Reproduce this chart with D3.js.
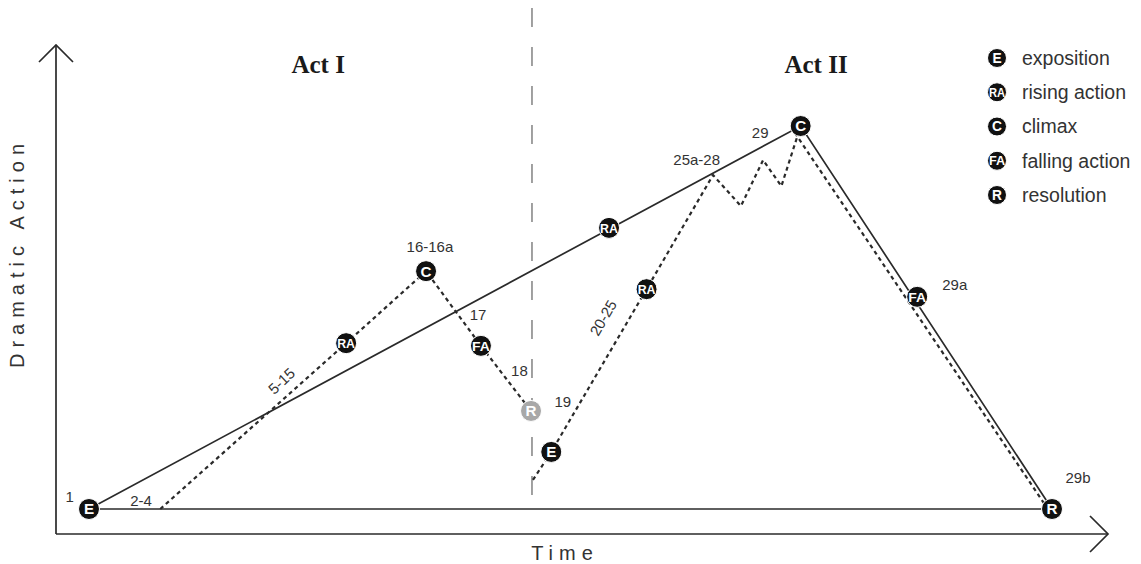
<!DOCTYPE html>
<html>
<head>
<meta charset="utf-8">
<script src="https://cdn.jsdelivr.net/npm/d3@7"></script>
<style>
  body { margin: 0; background: #fff; }
  svg { display: block; }
  text { font-family: "Liberation Sans", Arial, sans-serif; fill: #333; }
</style>
</head>
<body>
<svg id="chart" width="1141" height="564"></svg>
<script>
// story time (0 = exposition, 100 = final resolution) vs dramatic action (0..100)
const mainArc = [[0, 0], [73.9, 100], [100, 0]];
const baseline = [[0, 0], [100, 0]];
const actOnePath = [[7.4, 0], [26.7, 43.3], [35.0, 62.1], [40.7, 42.6], [45.9, 25.6]];
const actTwoPath = [[46.1, 7.6], [48.0, 14.9], [57.9, 57.4], [64.8, 87.2], [67.7, 79.1], [70.0, 91.1], [71.9, 84.3], [73.9, 100]];
const fallPath = [[73.3, 98.2], [99.3, 1]];

const markers = [
  { code: "E", t: 0, v: 0 },
  { code: "RA", t: 26.7, v: 43.3 },
  { code: "C", t: 35.0, v: 62.1 },
  { code: "FA", t: 40.7, v: 42.6 },
  { code: "R", t: 45.9, v: 25.6, faded: true },
  { code: "E", t: 48.0, v: 14.9 },
  { code: "RA", t: 57.9, v: 57.4 },
  { code: "RA", t: 54.0, v: 73.4 },
  { code: "C", t: 73.9, v: 100 },
  { code: "FA", t: 86.0, v: 55.4 },
  { code: "R", t: 100, v: 0 }
];

const sceneLabels = [
  { text: "1", t: -2.0, v: 3.1 },
  { text: "2-4", t: 5.4, v: 2.1 },
  { text: "5-15", t: 20.0, v: 33.4, angle: -43 },
  { text: "16-16a", t: 35.4, v: 68.4 },
  { text: "17", t: 40.4, v: 50.7 },
  { text: "18", t: 44.7, v: 36.0 },
  { text: "19", t: 49.2, v: 27.9 },
  { text: "20-25", t: 53.4, v: 49.9, angle: -60 },
  { text: "25a-28", t: 63.1, v: 91.1 },
  { text: "29", t: 69.7, v: 98.2 },
  { text: "29a", t: 89.9, v: 58.5 },
  { text: "29b", t: 102.7, v: 8.1 }
];

const acts = [{ name: "Act I", t: 23.8 }, { name: "Act II", t: 75.5 }];
const actBreak = 46.0;

const legendCodes = ["E", "RA", "C", "FA", "R"];
const legendNames = ["exposition", "rising action", "climax", "falling action", "resolution"];

const svg = d3.select('#chart');

const x = d3.scaleLinear().domain([0, 100]).range([89, 1052]);
const y = d3.scaleLinear().domain([0, 100]).range([509, 126]);

const axisX0 = 56, axisY0 = 534;
const ink = '#2a2a2a';

// axes with open arrowheads
svg.append('line').attr('x1', axisX0).attr('y1', axisY0).attr('x2', axisX0).attr('y2', 45)
  .attr('stroke', ink).attr('stroke-width', 1.7);
svg.append('path').attr('d', `M${axisX0 - 17},62 L${axisX0},45 L${axisX0 + 17},62`)
  .attr('fill', 'none').attr('stroke', ink).attr('stroke-width', 1.7);
svg.append('line').attr('x1', axisX0).attr('y1', axisY0).attr('x2', 1108).attr('y2', axisY0)
  .attr('stroke', ink).attr('stroke-width', 1.7);
svg.append('path').attr('d', `M1090,516 L1108,${axisY0} L1090,552`)
  .attr('fill', 'none').attr('stroke', ink).attr('stroke-width', 1.7);

svg.append('text').attr('transform', `translate(24, 253) rotate(-90)`)
  .attr('text-anchor', 'middle').attr('font-size', 20).attr('letter-spacing', 6)
  .text('Dramatic Action');
svg.append('text').attr('x', 565).attr('y', 560)
  .attr('text-anchor', 'middle').attr('font-size', 20).attr('letter-spacing', 6)
  .text('Time');

// act divider
svg.append('line').attr('x1', x(actBreak)).attr('x2', x(actBreak)).attr('y1', 8).attr('y2', 500)
  .attr('stroke', '#8a8a8a').attr('stroke-width', 1.6).attr('stroke-dasharray', '19,20');

svg.selectAll('.act').data(acts).join('text')
  .attr('class', 'act')
  .attr('x', d => x(d.t)).attr('y', 73)
  .attr('text-anchor', 'middle')
  .style('font-family', '"Liberation Serif", "DejaVu Serif", serif')
  .attr('font-weight', 'bold').attr('font-size', 25).style('fill', '#1a1a1a')
  .text(d => d.name);

const line = d3.line().x(d => x(d[0])).y(d => y(d[1]));

svg.append('path').datum(baseline).attr('d', line)
  .attr('fill', 'none').attr('stroke', ink).attr('stroke-width', 1.7);
svg.append('path').datum(mainArc).attr('d', line)
  .attr('fill', 'none').attr('stroke', ink).attr('stroke-width', 1.7);

[actOnePath, actTwoPath, fallPath].forEach(p => {
  svg.append('path').datum(p).attr('d', line)
    .attr('fill', 'none').attr('stroke', ink).attr('stroke-width', 2.2)
    .attr('stroke-dasharray', '4,3.5');
});

svg.selectAll('.scene').data(sceneLabels).join('text')
  .attr('class', 'scene')
  .attr('transform', d => `translate(${x(d.t)},${y(d.v)}) rotate(${d.angle || 0})`)
  .attr('text-anchor', 'middle').attr('dy', '0.35em')
  .attr('font-size', 15)
  .text(d => d.text);

function drawMarker(g, code, r, fill) {
  g.append('circle').attr('r', r).attr('fill', fill)
    .attr('stroke', '#fff').attr('stroke-width', 1);
  const t = g.append('text').attr('text-anchor', 'middle').attr('dy', '0.36em')
    .attr('font-size', code.length > 1 ? r * 1.3 : r * 1.45).attr('font-weight', 'bold')
    .style('fill', '#fff')
    .text(code);
  if (code.length > 1) t.attr('textLength', r * 1.7).attr('lengthAdjust', 'spacingAndGlyphs');
}

markers.forEach(m => {
  const g = svg.append('g').attr('transform', `translate(${x(m.t)},${y(m.v)})`);
  drawMarker(g, m.code, 10.5, m.faded ? '#a8a8a8' : '#111');
});

// legend
const legendY = d3.scalePoint().domain(legendCodes).range([58, 195]);
legendCodes.forEach((c, i) => {
  const g = svg.append('g').attr('transform', `translate(997,${legendY(c)})`);
  drawMarker(g, c, 9.5, '#111');
  svg.append('text').attr('x', 1022).attr('y', legendY(c)).attr('dy', '0.35em')
    .attr('font-size', 19.5).text(legendNames[i]);
});
</script>
</body>
</html>
